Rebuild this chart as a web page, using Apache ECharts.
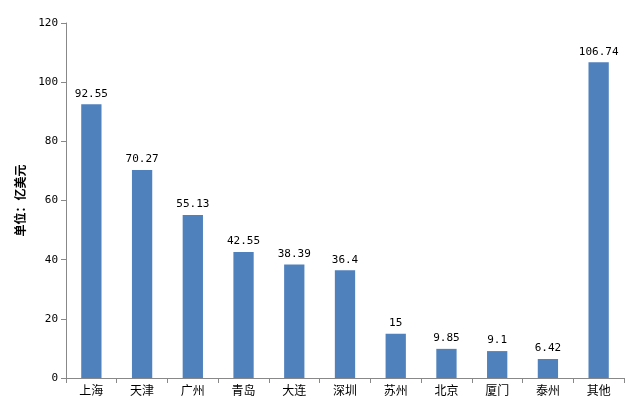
<!DOCTYPE html>
<html><head><meta charset="utf-8">
<script src="https://cdn.jsdelivr.net/npm/echarts@6/dist/echarts.min.js"></script>
<style>html,body{margin:0;padding:0;background:#fff}#c{width:640px;height:417px}</style>
</head><body><div id="c"></div>
<script>
const categories = ['上海','天津','广州','青岛','大连','深圳','苏州','北京','厦门','泰州','其他'];
const values = [92.55,70.27,55.13,42.55,38.39,36.4,15,9.85,9.1,6.42,106.74];
const yTicks = [0,20,40,60,80,100,120];
const chart = echarts.init(document.getElementById('c'));
chart.setOption({
  animation:false,
  grid:{left:66,right:16,top:23,bottom:39},
  xAxis:{type:'category',data:categories,
    axisLine:{lineStyle:{color:'#888'}},axisTick:{show:true,alignWithLabel:false,lineStyle:{color:'#888'}},
    axisLabel:{color:'#000',fontSize:12,fontFamily:'Noto Sans CJK SC',margin:6}},
  yAxis:{type:'value',min:yTicks[0],max:yTicks[yTicks.length-1],interval:20,
    name:'单位：亿美元',nameLocation:'middle',nameGap:40,nameRotate:90,
    nameTextStyle:{fontWeight:'bold',fontSize:12,color:'#000',fontFamily:'Noto Sans CJK SC'},
    axisLine:{show:true,lineStyle:{color:'#888'}},axisTick:{show:true,lineStyle:{color:'#888'}},
    splitLine:{show:false},
    axisLabel:{color:'#000',fontSize:11,fontFamily:'DejaVu Sans Mono'}},
  series:[{type:'bar',data:values,barWidth:'40%',itemStyle:{color:'#4F81BD'},
    label:{show:true,position:'top',color:'#000',fontSize:11,fontFamily:'DejaVu Sans Mono'}}]
});
</script></body></html>
